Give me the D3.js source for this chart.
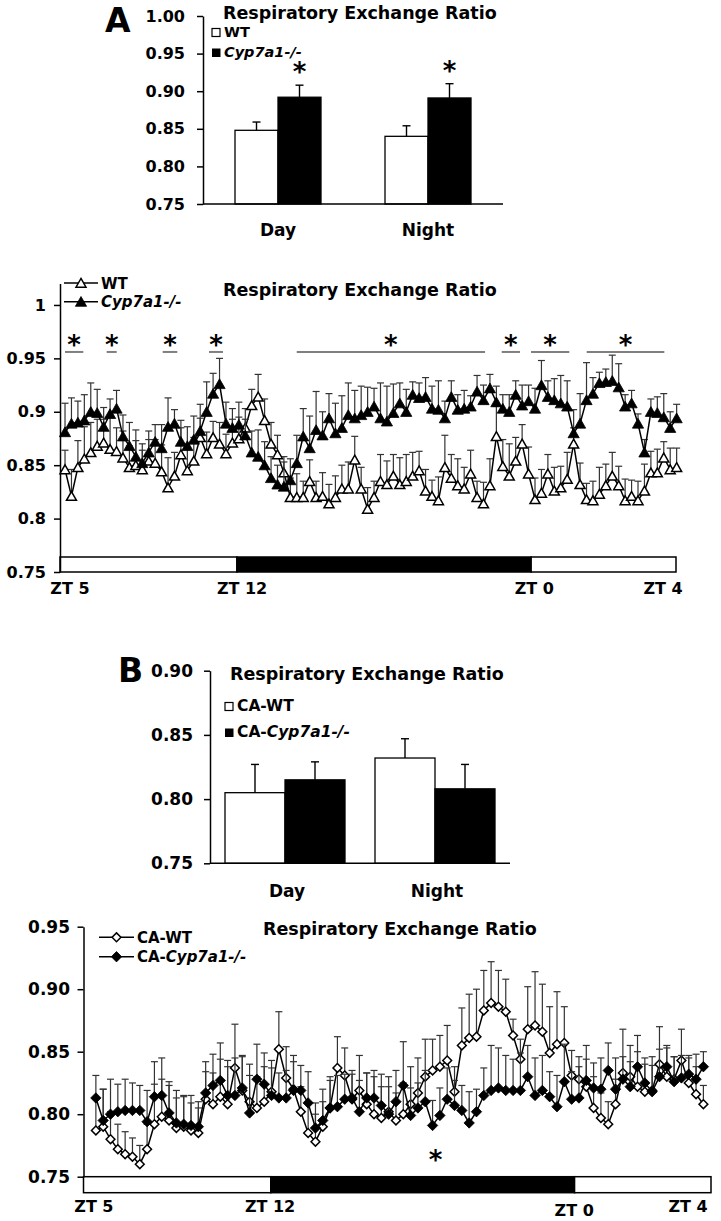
<!DOCTYPE html>
<html><head><meta charset="utf-8">
<script src="https://cdn.jsdelivr.net/npm/d3@7"></script>
<style>body{margin:0;background:#fff}</style>
</head><body>
<svg id="chart" width="721" height="1221" xmlns="http://www.w3.org/2000/svg"></svg>
<script>
// ---------------- DATA ----------------
const barCats = ["Day", "Night"];
// Panel A bars
const barA_WT = [0.848, 0.840];
const barA_WTerr = [0.011, 0.014];
const barA_KO = [0.892, 0.891];
const barA_KOerr = [0.016, 0.019];
const barA_sig = [true, true];
const barA_ticks = [0.75, 0.80, 0.85, 0.90, 0.95, 1.00];
// Panel B bars
const barB_WT = [0.805, 0.832];
const barB_WTerr = [0.022, 0.015];
const barB_KO = [0.815, 0.808];
const barB_KOerr = [0.014, 0.019];
const barB_sig = [false, false];
const barB_ticks = [0.75, 0.80, 0.85, 0.90];

// Panel A time course (96 samples)
const lineA_WT = [0.846,0.821,0.848,0.856,0.862,0.868,0.871,0.865,0.863,0.857,
 0.848,0.850,0.846,0.854,0.852,0.844,0.829,0.840,0.860,0.845,
 0.854,0.876,0.861,0.876,0.870,0.861,0.871,0.875,0.885,0.906,
 0.914,0.892,0.870,0.860,0.843,0.820,0.820,0.820,0.835,0.820,
 0.821,0.814,0.820,0.828,0.828,0.855,0.828,0.809,0.820,0.835,
 0.832,0.840,0.832,0.835,0.840,0.845,0.826,0.821,0.817,0.848,
 0.838,0.831,0.828,0.842,0.820,0.814,0.831,0.877,0.849,0.840,
 0.854,0.870,0.842,0.818,0.824,0.842,0.826,0.829,0.837,0.870,
 0.832,0.818,0.817,0.823,0.831,0.840,0.831,0.817,0.821,0.817,
 0.826,0.843,0.843,0.857,0.846,0.848];
const lineA_WTerr = [.018,.025,.025,.030,.028,.025,.022,.030,.022,.025,
 .020,.023,.018,.020,.022,.025,.028,.022,.025,.020,
 .022,.018,.020,.015,.020,.018,.022,.020,.018,.015,
 .021,.020,.020,.018,.015,.018,.022,.015,.020,.015,
 .022,.018,.020,.022,.025,.022,.020,.020,.015,.025,
 .022,.020,.025,.025,.022,.018,.020,.015,.022,.030,
 .022,.025,.020,.022,.015,.020,.025,.028,.025,.030,
 .022,.018,.025,.020,.022,.018,.022,.020,.025,.015,
 .020,.015,.018,.025,.020,.022,.018,.020,.015,.018,
 .025,.020,.022,.015,.020,.018];
const lineA_KO = [0.881,0.889,0.890,0.892,0.900,0.899,0.886,0.898,0.903,0.877,
 0.868,0.858,0.852,0.862,0.872,0.866,0.886,0.889,0.872,0.868,
 0.874,0.882,0.900,0.917,0.926,0.889,0.885,0.888,0.878,0.862,
 0.858,0.850,0.838,0.832,0.830,0.836,0.852,0.877,0.866,0.883,
 0.878,0.894,0.880,0.885,0.897,0.894,0.897,0.900,0.905,0.894,
 0.891,0.899,0.908,0.900,0.916,0.913,0.914,0.903,0.902,0.894,
 0.914,0.902,0.903,0.905,0.919,0.911,0.922,0.909,0.903,0.900,
 0.916,0.906,0.910,0.903,0.925,0.914,0.911,0.908,0.905,0.880,
 0.889,0.911,0.917,0.927,0.928,0.929,0.923,0.905,0.908,0.889,
 0.862,0.900,0.899,0.895,0.885,0.894];
const lineA_KOerr = [.027,.024,.020,.024,.027,.022,.018,.014,.017,.020,
 .022,.025,.018,.020,.016,.022,.027,.013,.020,.018,
 .022,.025,.028,.019,.024,.020,.018,.021,.015,.020,
 .025,.022,.020,.018,.023,.020,.026,.026,.030,.036,
 .022,.023,.028,.030,.030,.026,.027,.023,.017,.033,
 .033,.027,.019,.021,.012,.014,.018,.021,.027,.016,
 .015,.014,.017,.010,.015,.014,.013,.015,.013,.016,
 .013,.019,.015,.019,.023,.015,.020,.026,.024,.022,
 .028,.035,.015,.010,.012,.024,.022,.011,.012,.009,
 .012,.012,.015,.022,.015,.013];
const lineA_ticks = [0.75, 0.8, 0.85, 0.9, 0.95, 1];
const lineA_phaseFrom = [-0.78, 26.7, 72.4];
const lineA_phaseTo = [26.7, 72.4, 94.9];
const lineA_phaseDark = [false, true, false];
const lineA_ztLabels = ["ZT 5", "ZT 12", "ZT 0", "ZT 4"];
const lineA_ztAt = [0.77, 27.5, 72.9, 92.9];
const lineA_sigFrom = [0, 6.47, 15.17, 22.36, 35.99, 67.83, 72.38, 81.03];
const lineA_sigTo = [2.84, 8.03, 17.44, 24.54, 65.24, 70.67, 78.33, 93.09];

// Panel B time course (84 samples)
const lineB_WT = [0.787,0.790,0.780,0.772,0.768,0.766,0.760,0.772,0.792,0.798,
 0.795,0.789,0.790,0.787,0.785,0.812,0.808,0.814,0.808,0.837,
 0.819,0.810,0.805,0.810,0.818,0.852,0.829,0.820,0.802,0.785,
 0.778,0.790,0.805,0.837,0.831,0.812,0.819,0.808,0.800,0.797,
 0.802,0.795,0.800,0.808,0.817,0.830,0.835,0.838,0.843,0.818,
 0.855,0.861,0.862,0.883,0.889,0.886,0.882,0.863,0.844,0.868,
 0.871,0.866,0.849,0.856,0.857,0.831,0.828,0.822,0.805,0.797,
 0.792,0.808,0.833,0.830,0.822,0.818,0.819,0.840,0.830,0.828,
 0.843,0.825,0.816,0.808];
const lineB_WTerr = [.025,.030,.022,.020,.018,.015,.015,.020,.032,.030,
 .028,.030,.025,.028,.020,.022,.025,.030,.030,.035,
 .028,.030,.025,.028,.025,.030,.025,.022,.020,.025,
 .022,.020,.025,.025,.022,.020,.028,.025,.030,.025,
 .020,.022,.025,.030,.028,.030,.025,.025,.028,.020,
 .030,.035,.038,.032,.033,.029,.026,.013,.016,.034,
 .043,.038,.037,.042,.029,.020,.018,.022,.025,.020,
 .018,.020,.035,.025,.028,.022,.020,.030,.025,.018,
 .025,.020,.022,.015];
const lineB_KO = [0.813,0.795,0.800,0.802,0.803,0.803,0.803,0.794,0.814,0.815,
 0.801,0.793,0.792,0.791,0.790,0.817,0.823,0.827,0.815,0.815,
 0.821,0.801,0.828,0.824,0.815,0.813,0.813,0.819,0.819,0.809,
 0.789,0.795,0.805,0.806,0.812,0.813,0.802,0.813,0.813,0.807,
 0.800,0.810,0.823,0.799,0.805,0.810,0.791,0.799,0.812,0.807,
 0.803,0.793,0.802,0.815,0.819,0.821,0.819,0.819,0.819,0.830,
 0.815,0.819,0.814,0.806,0.826,0.812,0.813,0.827,0.821,0.820,
 0.835,0.820,0.828,0.822,0.838,0.825,0.818,0.830,0.838,0.826,
 0.829,0.832,0.828,0.838];
const lineB_KOerr = [.018,.025,.028,.022,.025,.022,.020,.025,.028,.030,
 .025,.020,.022,.018,.020,.025,.025,.030,.028,.030,
 .025,.030,.028,.025,.022,.020,.022,.028,.020,.025,
 .020,.025,.022,.025,.020,.022,.025,.020,.022,.025,
 .030,.025,.035,.022,.020,.025,.020,.022,.025,.020,
 .020,.025,.018,.022,.036,.032,.028,.025,.030,.025,
 .030,.028,.020,.025,.030,.022,.025,.028,.020,.025,
 .022,.025,.018,.020,.025,.020,.028,.022,.015,.020,
 .018,.015,.020,.012];
const lineB_ticks = [0.75, 0.80, 0.85, 0.90, 0.95];
const lineB_phaseFrom = [-1.69, 23.9, 65.4];
const lineB_phaseTo = [23.9, 65.4, 84.04];
const lineB_phaseDark = [false, true, false];
const lineB_ztLabels = ["ZT 5", "ZT 12", "ZT 0", "ZT 4"];
const lineB_ztAt = [-0.27, 23.8, 65.35, 80.9];
const lineB_sigAt = [46.4];

// ---------------- DRAWING ----------------
const FONT = '"DejaVu Sans", "Liberation Sans", Arial, sans-serif';
const svg = d3.select("#chart");

function txt(g, x, y, s, size, anchor) {
  return g.append("text").attr("x", x).attr("y", y)
    .attr("font-family", FONT).attr("font-weight", "bold")
    .attr("font-size", size).attr("text-anchor", anchor || "start")
    .attr("fill", "#000").text(s);
}
function txtItalicTail(g, x, y, pre, ital, size) {
  const t = g.append("text").attr("x", x).attr("y", y)
    .attr("font-family", FONT).attr("font-weight", "bold")
    .attr("font-size", size).attr("fill", "#000");
  if (pre) t.append("tspan").text(pre);
  t.append("tspan").attr("font-style", "italic").text(ital);
  return t;
}
function styleAxis(ax, size) {
  ax.attr("font-family", FONT).attr("font-size", size);
  ax.select(".domain").attr("stroke", "#000").attr("stroke-width", 1.5);
  ax.selectAll(".tick line").attr("stroke", "#000").attr("stroke-width", 1.5);
  ax.selectAll(".tick text").attr("font-weight", "bold").attr("fill", "#000")
    .attr("font-family", FONT).attr("font-size", size);
}

function drawBars(o) {
  const g = svg.append("g");
  const y = d3.scaleLinear().domain(o.yDomain).range(o.yRange);
  const x0 = d3.scaleBand().domain(o.cats).range(o.xRange)
    .paddingInner(o.pad).paddingOuter(o.pad / 2);
  const x1 = d3.scaleBand().domain(["wt", "ko"]).range([0, x0.bandwidth()]);
  const rows = [];
  o.cats.forEach((c, i) => {
    rows.push({ c, k: "wt", v: o.wt[i], e: o.wtErr[i], sig: false });
    rows.push({ c, k: "ko", v: o.ko[i], e: o.koErr[i], sig: o.sig[i] });
  });
  const base = y(o.yDomain[0]);
  const cx = d => x0(d.c) + x1(d.k) + x1.bandwidth() / 2;
  g.selectAll("rect.bar").data(rows).join("rect").attr("class", "bar")
    .attr("x", d => x0(d.c) + x1(d.k)).attr("width", x1.bandwidth())
    .attr("y", d => y(d.v)).attr("height", d => base - y(d.v))
    .attr("fill", d => d.k === "wt" ? "#fff" : "#000")
    .attr("stroke", "#000").attr("stroke-width", 1.3);
  g.selectAll("line.eb").data(rows).join("line").attr("class", "eb")
    .attr("x1", cx).attr("x2", cx).attr("y1", d => y(d.v)).attr("y2", d => y(d.v + d.e))
    .attr("stroke", "#000").attr("stroke-width", 1.4);
  g.selectAll("line.cap").data(rows).join("line").attr("class", "cap")
    .attr("x1", d => cx(d) - 4).attr("x2", d => cx(d) + 4)
    .attr("y1", d => y(d.v + d.e)).attr("y2", d => y(d.v + d.e))
    .attr("stroke", "#000").attr("stroke-width", 1.4);
  g.selectAll("text.star").data(rows.filter(d => d.sig)).join("text").attr("class", "star")
    .attr("x", cx).attr("y", d => y(d.v + d.e) - 4).attr("text-anchor", "middle")
    .attr("font-family", FONT).attr("font-weight", "bold").attr("font-size", 26).text("*");
  const ax = g.append("g").attr("transform", `translate(${o.xRange[0]},0)`)
    .call(d3.axisLeft(y).tickValues(o.ticks).tickFormat(d3.format(".2f"))
      .tickSize(6).tickSizeOuter(0).tickPadding(o.tickPad));
  styleAxis(ax, o.tickSize);
  g.append("line").attr("x1", o.xRange[0]).attr("x2", o.xRange[1])
    .attr("y1", base).attr("y2", base).attr("stroke", "#000").attr("stroke-width", 1.5);
  g.selectAll("text.cat").data(o.cats).join("text").attr("class", "cat")
    .attr("x", c => x0(c) + x0.bandwidth() / 2 + o.catDx).attr("y", o.catY)
    .attr("text-anchor", "middle").attr("font-family", FONT).attr("font-weight", "bold")
    .attr("font-size", 17).text(c => c);
  txt(g, o.titleX, o.titleY, "Respiratory Exchange Ratio", 17.5);
  const lg = o.legend;
  g.append("rect").attr("x", lg.x).attr("y", lg.y - 8).attr("width", 8).attr("height", 8)
    .attr("fill", "#fff").attr("stroke", "#000").attr("stroke-width", 1.2);
  g.append("rect").attr("x", lg.x).attr("y", lg.y + lg.dy - 8).attr("width", 8.5).attr("height", 8.5)
    .attr("fill", "#000");
  txt(g, lg.x + 12, lg.y + 0.5, lg.pre + "WT", lg.size);
  txtItalicTail(g, lg.x + 12, lg.y + lg.dy + 0.5, lg.pre, "Cyp7a1-/-", lg.size);
}

function markerPath(shape) {
  if (shape === "tri") return "M0,-5.2L5.6,4.6L-5.6,4.6Z";
  if (shape === "triO") return "M0,-4.6L5,4.2L-5,4.2Z";
  if (shape === "dia") return "M0,-5.2L5.2,0L0,5.2L-5.2,0Z";
  return "M0,-4.4L4.4,0L0,4.4L-4.4,0Z";
}

function drawLine(o) {
  const g = svg.append("g");
  const x = d3.scaleLinear().domain(o.xDomain).range(o.xRange);
  const y = d3.scaleLinear().domain(o.yDomain).range(o.yRange);
  const y0 = y(o.yDomain[0]);
  const phases = o.phaseFrom.map((f, i) => ({ f, t: o.phaseTo[i], dark: o.phaseDark[i] }));
  g.selectAll("rect.ph").data(phases).join("rect").attr("class", "ph")
    .attr("x", d => x(d.f)).attr("width", d => x(d.t) - x(d.f))
    .attr("y", y0 + o.barOff[0]).attr("height", o.barOff[1] - o.barOff[0])
    .attr("fill", d => d.dark ? "#000" : "#fff").attr("stroke", "#000").attr("stroke-width", 1.5);
  const ax = g.append("g").attr("transform", `translate(${o.xRange[0]},0)`)
    .call(d3.axisLeft(y).tickValues(o.ticks).tickFormat(o.fmt)
      .tickSize(6).tickSizeOuter(0).tickPadding(o.tickPad));
  styleAxis(ax, o.tickSize);

  o.series.forEach(s => {
    const pts = s.values.map((v, i) => ({ i, v, e: s.err[i] }));
    const sg = g.append("g");
    sg.selectAll("line.eb").data(pts).join("line")
      .attr("x1", d => x(d.i)).attr("x2", d => x(d.i))
      .attr("y1", d => y(d.v)).attr("y2", d => y(d.v + d.e))
      .attr("stroke", "#333").attr("stroke-width", 1.2);
    sg.selectAll("line.cap").data(pts).join("line")
      .attr("x1", d => x(d.i) - 3.5).attr("x2", d => x(d.i) + 3.5)
      .attr("y1", d => y(d.v + d.e)).attr("y2", d => y(d.v + d.e))
      .attr("stroke", "#333").attr("stroke-width", 1.2);
    sg.append("path").datum(pts)
      .attr("d", d3.line().x(d => x(d.i)).y(d => y(d.v)))
      .attr("fill", "none").attr("stroke", "#000").attr("stroke-width", 1.5);
    sg.selectAll("path.mk").data(pts).join("path")
      .attr("transform", d => `translate(${x(d.i)},${y(d.v)})`)
      .attr("d", markerPath(s.shape))
      .attr("fill", s.fill).attr("stroke", "#000").attr("stroke-width", s.fill === "#fff" ? 1.5 : 0.8);
  });

  o.ztLabels.forEach((l, i) => {
    txt(g, x(o.ztAt[i]), o.ztY + (l === "ZT 0" ? o.zt0dy : 0), l, 16, "middle");
  });
  txt(g, o.titleX, o.titleY, "Respiratory Exchange Ratio", 17.5);
  const lg = o.legend;
  o.series.forEach((s, k) => {
    const ly = lg.y + k * lg.dy;
    g.append("line").attr("x1", lg.x1).attr("x2", lg.x2).attr("y1", ly).attr("y2", ly)
      .attr("stroke", "#000").attr("stroke-width", 1.5);
    g.append("path").attr("transform", `translate(${(lg.x1 + lg.x2) / 2},${ly})`)
      .attr("d", markerPath(s.shape)).attr("fill", s.fill).attr("stroke", "#000")
      .attr("stroke-width", s.fill === "#fff" ? 1.5 : 0.8);
    if (s.italic) txtItalicTail(g, lg.x2 + 3, ly + 5.5, s.pre, s.italic, lg.size);
    else txt(g, lg.x2 + 3, ly + 5.5, s.name, lg.size);
  });
  return { g, x, y };
}

// ---- Panel A bars ----
txt(svg, 105, 32, "A", 33);
drawBars({
  cats: barCats, wt: barA_WT, wtErr: barA_WTerr, ko: barA_KO, koErr: barA_KOerr, sig: barA_sig,
  yDomain: [0.75, 1.00], yRange: [204, 16], xRange: [203, 503], pad: 0.4267,
  ticks: barA_ticks, tickPad: 12, tickSize: 16, catY: 236, catDx: 0,
  titleX: 223, titleY: 18.5,
  legend: { x: 212, y: 36.5, dy: 20, pre: "", size: 14.5 }
});

// ---- Panel A time course ----
const A = drawLine({
  xDomain: [-0.78, 94.9], xRange: [60, 676],
  yDomain: [0.75, 1.02], yRange: [572, 283.6],
  ticks: lineA_ticks, fmt: d => String(d), tickPad: 8, tickSize: 16,
  phaseFrom: lineA_phaseFrom, phaseTo: lineA_phaseTo, phaseDark: lineA_phaseDark,
  barOff: [-15, 0],
  ztLabels: lineA_ztLabels, ztAt: lineA_ztAt, ztY: 594, zt0dy: 0,
  titleX: 223, titleY: 296,
  legend: { x1: 64, x2: 98, y: 283, dy: 18.7, size: 15 },
  series: [
    { name: "WT", values: lineA_WT, err: lineA_WTerr, shape: "triO", fill: "#fff" },
    { name: "Cyp7a1-/-", pre: "", italic: "Cyp7a1-/-", values: lineA_KO, err: lineA_KOerr, shape: "tri", fill: "#000" }
  ]
});
const sigRows = lineA_sigFrom.map((f, i) => ({ f, t: lineA_sigTo[i] }));
A.g.selectAll("line.sig").data(sigRows).join("line")
  .attr("x1", d => A.x(d.f)).attr("x2", d => A.x(d.t))
  .attr("y1", A.y(0.956)).attr("y2", A.y(0.956))
  .attr("stroke", "#7f7f7f").attr("stroke-width", 2);
A.g.selectAll("text.sigstar").data(sigRows).join("text")
  .attr("x", d => A.x((d.f + d.t) / 2)).attr("y", A.y(0.967) + 14)
  .attr("text-anchor", "middle").attr("font-family", FONT).attr("font-weight", "bold")
  .attr("font-size", 26).text("*");

// ---- Panel B bars ----
txt(svg, 118, 682, "B", 33);
drawBars({
  cats: barCats, wt: barB_WT, wtErr: barB_WTerr, ko: barB_KO, koErr: barB_KOerr, sig: barB_sig,
  yDomain: [0.75, 0.90], yRange: [863.3, 670.7], xRange: [210, 510], pad: 0.2,
  ticks: barB_ticks, tickPad: 11, tickSize: 17, catY: 897, catDx: 2,
  titleX: 230, titleY: 680,
  legend: { x: 225, y: 710.5, dy: 26, pre: "CA-", size: 15.5 }
});

// ---- Panel B time course ----
const B = drawLine({
  xDomain: [-1.69, 84.04], xRange: [83.5, 711],
  yDomain: [0.75, 0.95], yRange: [1176.7, 926.7],
  ticks: lineB_ticks, fmt: d3.format(".2f"), tickPad: 7.5, tickSize: 17,
  phaseFrom: lineB_phaseFrom, phaseTo: lineB_phaseTo, phaseDark: lineB_phaseDark,
  barOff: [0, 16],
  ztLabels: lineB_ztLabels, ztAt: lineB_ztAt, ztY: 1212, zt0dy: 4,
  titleX: 263, titleY: 935,
  legend: { x1: 99, x2: 134, y: 937.3, dy: 19.4, size: 15 },
  series: [
    { name: "CA-WT", values: lineB_WT, err: lineB_WTerr, shape: "diaO", fill: "#fff" },
    { name: "CA-Cyp7a1-/-", pre: "CA-", italic: "Cyp7a1-/-", values: lineB_KO, err: lineB_KOerr, shape: "dia", fill: "#000" }
  ]
});
B.g.selectAll("text.sigstar").data(lineB_sigAt).join("text")
  .attr("x", d => B.x(d)).attr("y", B.y(0.767) + 14)
  .attr("text-anchor", "middle").attr("font-family", FONT).attr("font-weight", "bold")
  .attr("font-size", 26).text("*");
</script>
</body></html>
